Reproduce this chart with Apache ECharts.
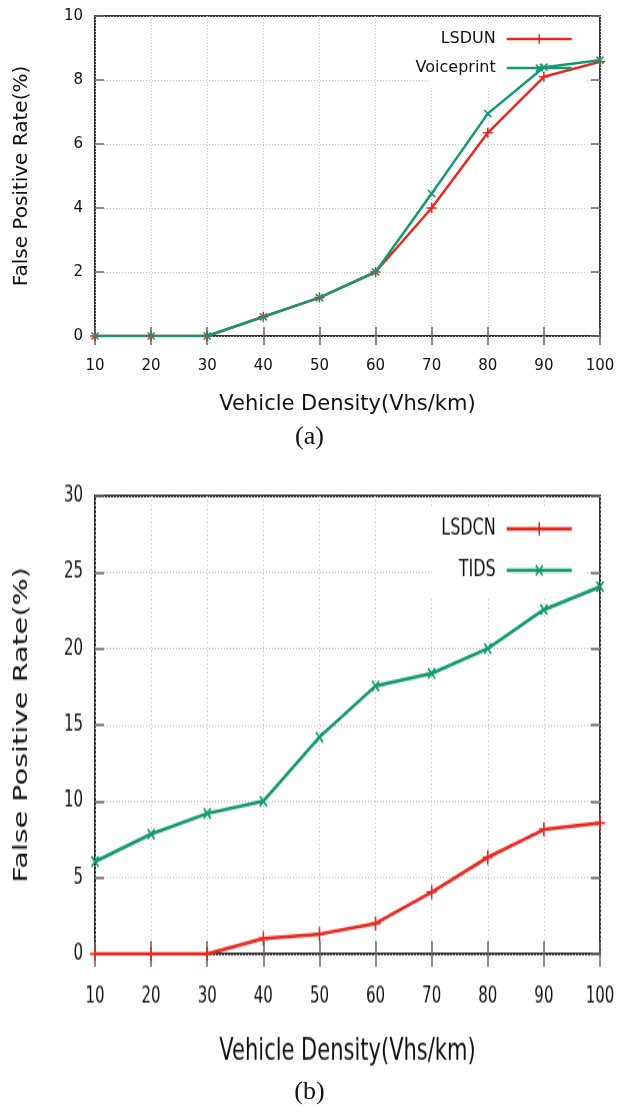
<!DOCTYPE html>
<html><head><meta charset="utf-8">
<script src="https://cdn.jsdelivr.net/npm/echarts@6/dist/echarts.min.js"></script>
<style>
html,body{margin:0;padding:0;background:#fff}
#wrap{position:relative;width:619px;height:1112px;overflow:hidden}
#ca{position:absolute;left:0;top:0;width:619px;height:1112px}
#cb{position:absolute;left:0;top:473.1px;width:619px;height:430px;transform:scaleY(1.43125);transform-origin:0 0}
</style>
</head><body><div id="wrap"><div id="ca"></div><div id="cb"></div></div>
<script>
// ---- data ----
const density = [10, 20, 30, 40, 50, 60, 70, 80, 90, 100];
const lsdunA = [0, 0, 0, 0.6, 1.2, 2.0, 4.0, 6.35, 8.1, 8.57];
const voiceprintA = [0, 0, 0, 0.6, 1.2, 2.0, 4.45, 6.95, 8.4, 8.62];
const lsdcnB = [0, 0, 0, 1.0, 1.3, 2.0, 4.05, 6.33, 8.15, 8.58];
const tidsB = [6.05, 7.85, 9.2, 10.0, 14.2, 17.55, 18.38, 20.0, 22.55, 24.05];
const yRangeA = [0, 10, 2];
const yRangeB = [0, 30, 5];
const namesA = ['LSDUN', 'Voiceprint'];
const namesB = ['LSDCN', 'TIDS'];
const xTitle = 'Vehicle Density(Vhs/km)';
const yTitle = 'False Positive Rate(%)';
const captions = ['(a)', '(b)'];

const RED = '#e8281e', GREEN = '#12996f';
const FONT = '"DejaVu Sans", Verdana, sans-serif';
const PLUS = 'path://M4.2,0H5.8V4.2H10V5.8H5.8V10H4.2V5.8H0V4.2H4.2Z';
const pairs = (ys) => density.map((x, i) => [x, ys[i]]);

const tick = {show: true, inside: true, length: 9, lineStyle: {color: '#666', width: 1.5}};
const split = {show: true, lineStyle: {type: [1, 2], color: '#c4c4c4', width: 1}};

function buildOption(yr, names, ysRed, ysGreen, extraGraphic) {
  return {
    animation: false,
    grid: {left: 95, top: 16, width: 505, height: 320, show: true, borderColor: '#333', borderWidth: 2,
           containLabel: false, outerBoundsMode: 'none'},
    xAxis: [{
      type: 'value', min: 10, max: 100, interval: 10, position: 'bottom',
      axisLine: {show: false}, axisTick: tick, splitLine: split,
      axisLabel: {color: '#111', fontSize: 15, fontFamily: FONT, margin: 23},
      name: xTitle, nameLocation: 'middle', nameGap: 58,
      nameTextStyle: {color: '#111', fontSize: 21, fontFamily: FONT}
    }, {
      type: 'value', min: 10, max: 100, interval: 10, position: 'top',
      axisLine: {show: false}, axisTick: tick, splitLine: {show: false}, axisLabel: {show: false}
    }],
    yAxis: [{
      type: 'value', min: yr[0], max: yr[1], interval: yr[2], position: 'left',
      axisLine: {show: false}, axisTick: tick, splitLine: split,
      axisLabel: {color: '#111', fontSize: 15, fontFamily: FONT, margin: 12},
      name: yTitle, nameLocation: 'middle', nameGap: 63,
      nameTextStyle: {color: '#111', fontSize: 20, fontFamily: FONT}
    }, {
      type: 'value', min: yr[0], max: yr[1], interval: yr[2], position: 'right',
      axisLine: {show: false}, axisTick: tick, splitLine: {show: false}, axisLabel: {show: false}
    }],
    legend: {
      data: names, orient: 'vertical', align: 'right', right: 46, top: 31, padding: 0,
      itemWidth: 65, itemHeight: 12, itemGap: 13,
      lineStyle: {width: 2.5},
      textStyle: {color: '#111', fontSize: 16, fontFamily: FONT, padding: [0, 6, 0, 0]}
    },
    graphic: [
      {type: 'rect', shape: {x: 429, y: 25, width: 158, height: 62}, style: {fill: '#fff'}, z: 1, silent: true}
    ].concat(extraGraphic),
    series: [
      {name: names[0], type: 'line', data: pairs(ysRed), symbol: PLUS, symbolSize: 10,
       lineStyle: {color: RED, width: 2.5}, itemStyle: {color: RED}, z: 3},
      {name: names[1], type: 'line', data: pairs(ysGreen), symbol: PLUS, symbolRotate: 45, symbolSize: 10,
       lineStyle: {color: GREEN, width: 2.5}, itemStyle: {color: GREEN}, z: 3}
    ]
  };
}

const capFont = '26px "Liberation Serif", "Times New Roman", serif';
const chartA = echarts.init(document.getElementById('ca'), null, {renderer: 'canvas'});
chartA.setOption(buildOption(yRangeA, namesA, lsdunA, voiceprintA, [
  {type: 'text', left: 'center', top: 424, style: {text: captions[0], font: capFont, fill: '#111'}},
  {type: 'text', left: 'center', top: 1079, style: {text: captions[1], font: capFont, fill: '#111'}}
]));
const chartB = echarts.init(document.getElementById('cb'), null, {renderer: 'canvas'});
chartB.setOption(buildOption(yRangeB, namesB, lsdcnB, tidsB, []));
</script></body></html>
